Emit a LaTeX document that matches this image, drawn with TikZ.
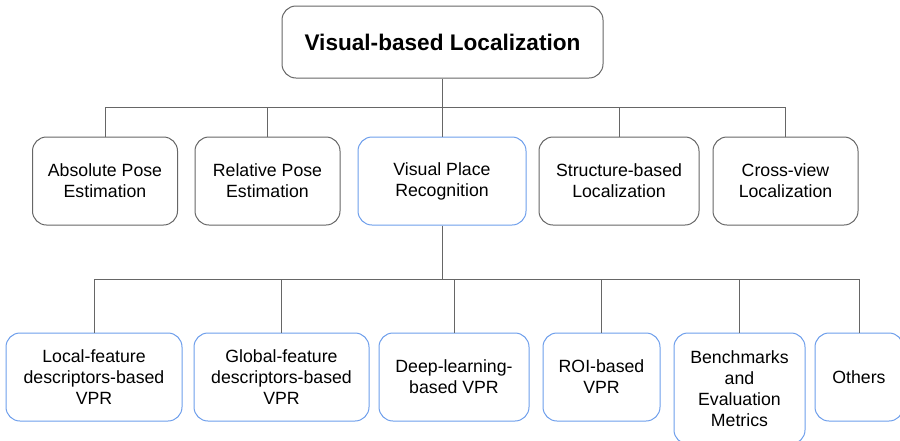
\documentclass[tikz,border=0pt]{standalone}
\usepackage{fontspec}
\setmainfont{Liberation Sans}
\usepackage{tikz}

\definecolor{edgegray}{HTML}{666666}
\definecolor{vprblue}{HTML}{6D9EEB}

\begin{document}
\begin{tikzpicture}[x=1pt,y=-1pt,
    box/.style={draw=edgegray,line width=1pt,rounded corners=14pt,align=center,
      inner sep=0pt,font=\fontsize{17.7}{21}\selectfont},
    hilite/.style={box,draw=vprblue},
    link/.style={draw=edgegray,line width=1pt}]
  \useasboundingbox (0,0) rectangle (900,440);
  % top of the tree
  \node[box,minimum width=321,minimum height=72,font=\fontsize{22.6}{26}\selectfont\bfseries]
    (root) at (442.5,42) {Visual-based Localization};
  % second level
  \node[box,minimum width=145,minimum height=88] (ape) at (105,181) {Absolute Pose\\Estimation};
  \node[box,minimum width=145,minimum height=88] (rpe) at (267.5,181) {Relative Pose\\Estimation};
  \node[hilite,minimum width=168,minimum height=88] (vpr) at (442,181) {Visual Place\\Recognition};
  \node[box,minimum width=160,minimum height=88] (sbl) at (619,181) {Structure-based\\Localization};
  \node[box,minimum width=145,minimum height=88] (cvl) at (785.5,181) {Cross-view\\Localization};
  % VPR branches
  \node[hilite,minimum width=176,minimum height=88] (lfd) at (94,377) {Local-feature\\descriptors-based\\VPR};
  \node[hilite,minimum width=175,minimum height=88] (gfd) at (281.5,377) {Global-feature\\descriptors-based\\VPR};
  \node[hilite,minimum width=150,minimum height=88] (dlv) at (454,377) {Deep-learning-\\based VPR};
  \node[hilite,minimum width=117,minimum height=88] (roi) at (601.5,377) {ROI-based\\VPR};
  \node[hilite,minimum width=131,minimum height=111] (bem) at (739.5,388.5) {Benchmarks\\and\\Evaluation\\Metrics};
  \node[hilite,minimum width=88,minimum height=88] (oth) at (859,377) {Others};
  % buses
  \coordinate (busA) at (442.5,107);
  \coordinate (busB) at (442,279);
  \draw[link] (root) -- (busA);
  \foreach \c in {ape,rpe,vpr,sbl,cvl}
    \draw[link] (\c.north) |- (busA);
  \draw[link] (vpr) -- (busB);
  \foreach \c in {lfd,gfd,dlv,roi,bem,oth}
    \draw[link] (\c.north) |- (busB);
\end{tikzpicture}
\end{document}
